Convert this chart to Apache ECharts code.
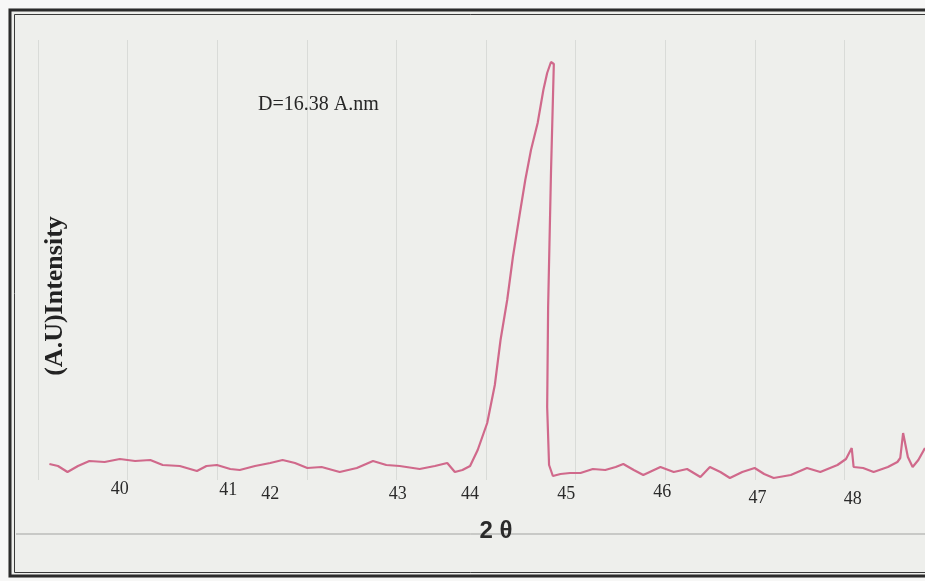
<!DOCTYPE html>
<html>
<head>
<meta charset="utf-8">
<title>XRD pattern</title>
<script src="https://cdn.jsdelivr.net/npm/echarts@6/dist/echarts.min.js"></script>
<style>
  html, body { margin: 0; padding: 0; background: #f7f7f6; }
  #chart { width: 925px; height: 581px; }
</style>
</head>
<body>
<div id="chart"></div>
<script>
// 2θ positions (deg) of the traced points
var twoTheta = [
  39.58, 39.67, 39.77, 39.88, 40.00, 40.16, 40.32, 40.48, 40.64, 40.77,
  40.95, 41.13, 41.23, 41.34, 41.48, 41.58, 41.74, 41.90, 42.03, 42.16,
  42.29, 42.44, 42.63, 42.81, 42.98, 43.12, 43.26, 43.47, 43.63, 43.76,
  43.84, 43.92, 44.00, 44.08, 44.18, 44.26, 44.32, 44.39, 44.45, 44.52,
  44.58, 44.64, 44.71, 44.77, 44.81, 44.85, 44.88, 44.85, 44.82, 44.81,
  44.83, 44.87, 44.95, 45.05, 45.16, 45.29, 45.42, 45.53, 45.61, 45.72,
  45.82, 46.00, 46.14, 46.28, 46.42, 46.52, 46.63, 46.73, 46.86, 46.99,
  47.09, 47.19, 47.37, 47.54, 47.68, 47.86, 47.95, 48.01, 48.03, 48.13,
  48.24, 48.39, 48.49, 48.52, 48.55, 48.60, 48.65, 48.71, 48.78
];
// intensity (a.u.) at those points
var intensity = [
  32, 28, 16, 28, 38, 36, 42, 38, 40, 30,
  28, 18, 28, 30, 22, 20, 28, 34, 40, 34,
  24, 26, 16, 24, 38, 30, 28, 22, 28, 34,
  16, 20, 28, 60, 114, 190, 280, 360, 446, 530,
  600, 660, 714, 780, 814, 836, 832, 614, 346, 146,
  30, 8, 12, 14, 14, 22, 20, 26, 32, 20,
  10, 26, 16, 22, 6, 26, 16, 4, 16, 24,
  12, 4, 10, 24, 16, 30, 42, 64, 26, 24,
  16, 26, 36, 44, 94, 46, 26, 40, 64
];
// hand-written tick labels and where they sit on the 2θ scale
var tickLabels = ['40', '41', '42', '43', '44', '45', '46', '47', '48'];
var tickPos = [40.32, 41.46, 41.90, 43.24, 44.00, 45.01, 46.02, 47.02, 48.02];

var chart = echarts.init(document.getElementById('chart'));

var points = twoTheta.map(function (t, i) { return [t, intensity[i]]; });

// labels are not on one line in the scan, push some down a little
var labelDrop = [0, 1, 5, 5, 5, 5, 3, 9, 10];
var rich = {};
labelDrop.forEach(function (d, i) {
  rich['p' + i] = {
    fontFamily: 'Liberation Serif',
    fontSize: 18,
    color: '#2a2a2a',
    padding: [d, 0, 0, 0]
  };
});

var serif = 'Liberation Serif';

var option = {
  backgroundColor: '#eeefec',
  animation: false,
  title: {
    text: 'D=16.38 A.nm',
    left: 253,
    top: 90,
    textStyle: { fontFamily: serif, fontSize: 20, fontWeight: 'normal', color: '#262626' }
  },
  grid: { left: 38, right: 0, top: 40, bottom: 101 },
  xAxis: [
    {
      type: 'value',
      min: 39.46,
      max: 48.78,
      axisLine: { show: false },
      axisTick: { show: false },
      splitLine: { show: false },
      axisLabel: {
        customValues: tickPos,
        margin: 0,
        formatter: function (v) {
          var k = 0, best = 1e9;
          tickPos.forEach(function (p, i) {
            if (Math.abs(p - v) < best) { best = Math.abs(p - v); k = i; }
          });
          return '{p' + k + '|' + tickLabels[k] + '}';
        },
        rich: rich
      }
    },
    {
      // faint ruling of the chart paper
      type: 'value',
      position: 'bottom',
      min: 0,
      max: 9.9,
      interval: 1,
      axisLine: { show: false },
      axisTick: { show: false },
      axisLabel: { show: false },
      splitLine: { show: true, lineStyle: { color: '#d9dbd8', width: 1 } }
    }
  ],
  yAxis: {
    type: 'value',
    min: 0,
    max: 880,
    show: true,
    axisLine: { show: false },
    axisTick: { show: false },
    axisLabel: { show: false },
    splitLine: { show: false }
  },
  series: [
    {
      type: 'line',
      xAxisIndex: 0,
      data: points,
      showSymbol: false,
      smooth: false,
      lineStyle: { color: '#d0698b', width: 2.2 },
      z: 5
    }
  ],
  graphic: [
    // white margin outside the scanned frame
    { type: 'rect', shape: { x: 0, y: 0, width: 925, height: 8 }, style: { fill: '#f7f7f6' } },
    { type: 'rect', shape: { x: 0, y: 0, width: 8, height: 581 }, style: { fill: '#f7f7f6' } },
    { type: 'rect', shape: { x: 0, y: 578, width: 925, height: 3 }, style: { fill: '#f7f7f6' } },
    // double frame
    { type: 'rect', shape: { x: 10, y: 10, width: 940, height: 566 },
      style: { fill: null, stroke: '#2b2b2b', lineWidth: 3 } },
    { type: 'rect', shape: { x: 14.5, y: 14.5, width: 930, height: 558 },
      style: { fill: null, stroke: '#3a3a3a', lineWidth: 1 } },
    // ruled line under the axis labels
    { type: 'line', shape: { x1: 16, y1: 534, x2: 925, y2: 534 },
      style: { stroke: '#a2a3a1', lineWidth: 1 } },
    {
      type: 'text', x: 55, y: 296, rotation: Math.PI / 2,
      style: {
        text: '(A.U)Intensity', fontFamily: serif, fontSize: 26, fontWeight: 'bold',
        fill: '#222', align: 'center', verticalAlign: 'middle'
      }
    },
    {
      type: 'text', x: 496, y: 531,
      style: {
        text: '2 θ', fontFamily: 'Liberation Sans', fontSize: 24, fontWeight: 'bold',
        fill: '#2b2b2b', align: 'center', verticalAlign: 'middle'
      }
    }
  ]
};

chart.setOption(option);
</script>
</body>
</html>
